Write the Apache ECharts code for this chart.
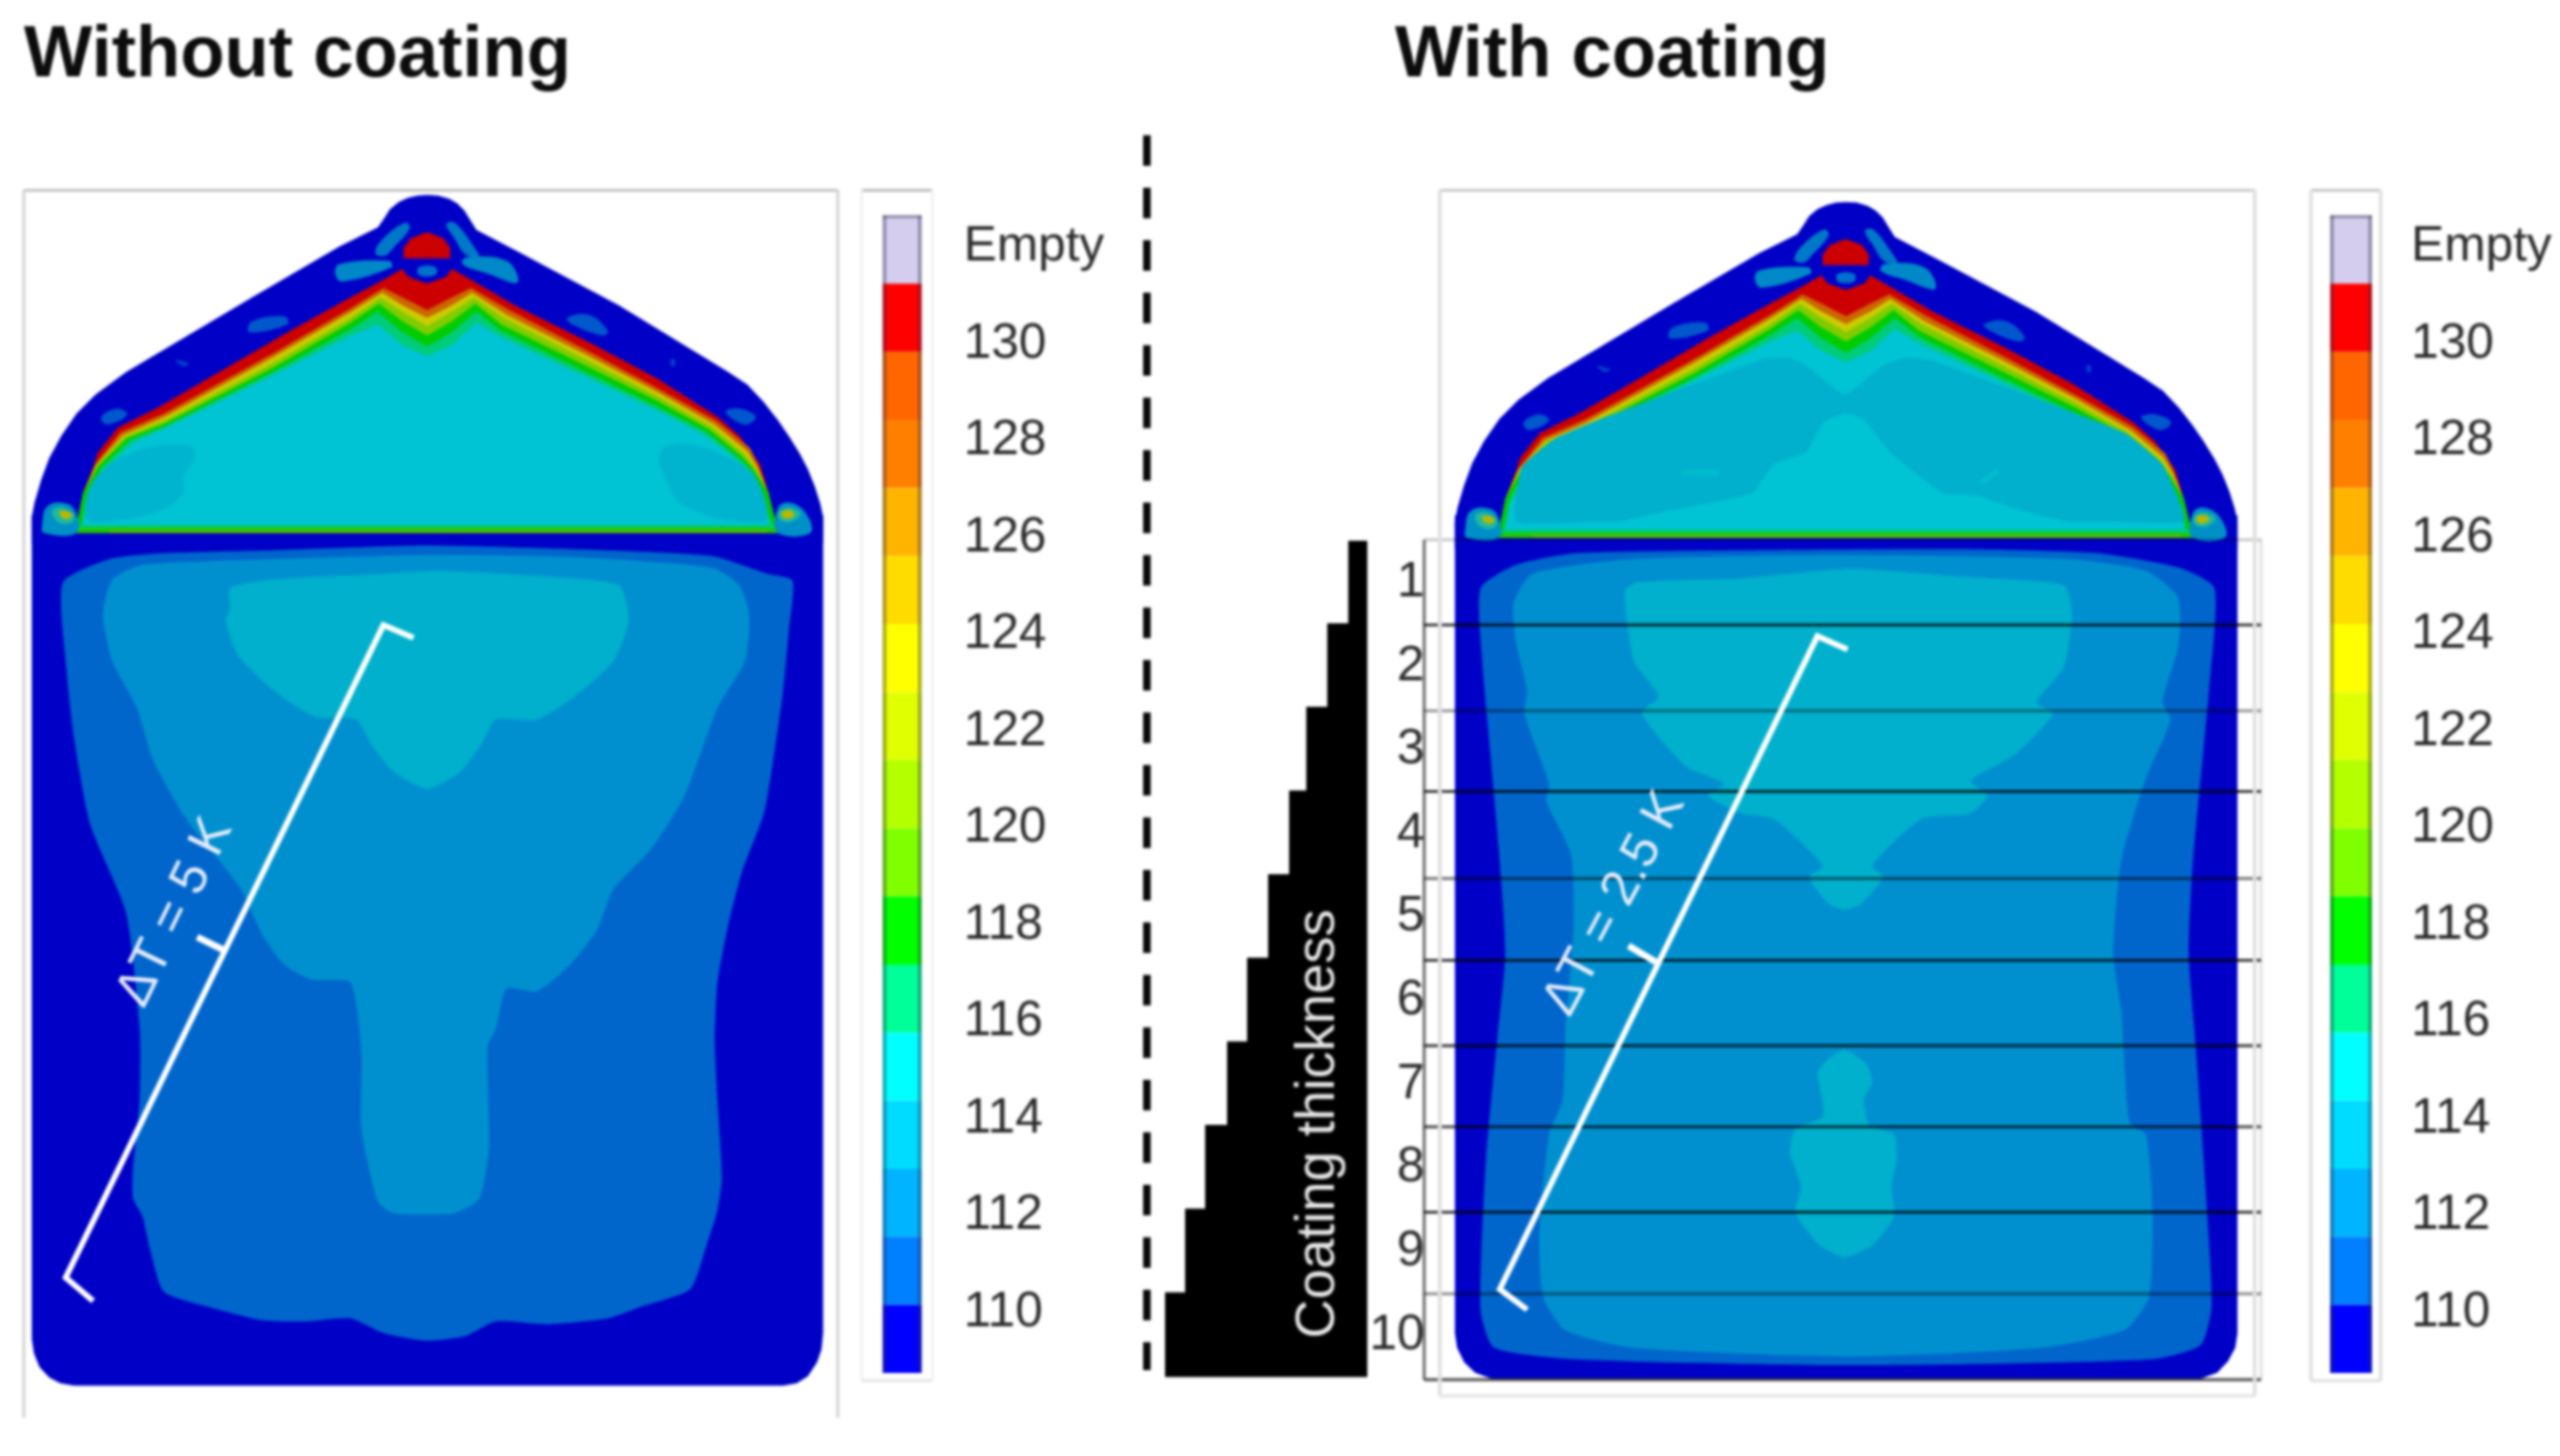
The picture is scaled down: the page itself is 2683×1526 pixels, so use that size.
<!DOCTYPE html>
<html><head><meta charset="utf-8">
<style>html,body{margin:0;background:#fff}#c{width:2683px;height:1526px;filter:blur(1.7px)}</style>
<script src="https://cdn.jsdelivr.net/npm/echarts@6/dist/echarts.min.js"></script></head>
<body><div id="c"></div>
<script>
// ---------- legend ----------
const legendCats=['Empty','131','129','127','125','123','121','119','117','115','113','111','109a','109b','109c','109d','109e'];
const legendColors=['#d5cdee','#ff0000','#ff6600','#ff8000','#ffb400','#ffdc00','#ffff00','#e0ff00','#b4ff00','#80ff00','#00ff00','#00ff99','#00ffff','#00dcff','#00b4ff','#0080ff','#0000ff'];
const legendCell=legendCats.map(()=>1);
// ---------- staircase ----------
const coatingRows=['1','2','3','4','5','6','7','8','9','10'];
const coatingThickness=[20,42,64,82,104,126,147,170,191,212];
const dividerRows=[[42,.22],[188,.78],[335,.42],[473,.78],[622,.55],[762,.78],[908,.78],[1047,.72],[1193,.78],[1333,.45],[1480,.72]];
// ---------- temperature contours, shaded colours ----------
const cBlue='#0000c6',cL1='#0066cc',cL2='#0090cf',cL3='#00b0cc',cTeal='#00c3d4';
const domeOutline=[[780,103],[800,105],[820,115],[835,130],[848,152],[858,180],[870,213],[950,285],[1130,450],[1330,660],[1365,700],[1395,755],[1420,810],[1440,860],[1460,915],[1475,965],[1488,1020],[1498,1075],[1503,1115],[1503,1200],[58,1200],[58,1115],[63,1070],[75,1000],[90,930],[112,860],[140,790],[175,730],[230,660],[460,425],[620,265],[690,205],[702,175],[712,148],[728,125],[745,112],[762,105]];
const bandRed=[[138,1165],[152,1040],[172,950],[178,915],[215,835],[290,770],[400,660],[530,530],[640,425],[700,370],[735,335],[745,360],[780,382],[815,360],[825,335],[860,370],[940,450],[1080,570],[1200,680],[1310,800],[1350,860],[1388,950],[1403,1040],[1420,1165]];
const bandOrange=[[138,1160],[152,1040],[174,950],[220,850],[300,790],[500,600],[640,460],[700,395],[735,425],[780,465],[825,425],[860,395],[930,465],[1070,590],[1200,710],[1310,815],[1370,900],[1385,955],[1403,1040],[1420,1160]];
const bandYellow=[[138,1160],[152,1040],[176,950],[225,858],[300,802],[500,612],[640,472],[698,410],[735,450],[780,490],[825,450],[862,410],[925,480],[1070,605],[1200,722],[1305,825],[1365,910],[1383,960],[1403,1040],[1420,1160]];
const bandLime=[[138,1160],[152,1040],[177,952],[228,862],[300,812],[500,630],[640,490],[695,425],[735,470],[780,515],[825,470],[865,425],[920,490],[1070,620],[1200,735],[1300,832],[1360,918],[1381,965],[1403,1040],[1420,1160]];
const bandGreen=[[138,1160],[152,1040],[180,955],[232,868],[300,822],[500,645],[640,505],[692,445],[735,500],[780,545],[825,500],[868,445],[915,510],[1070,640],[1200,750],[1295,840],[1355,925],[1378,970],[1403,1040],[1420,1160]];
const bandSea=[[146,1160],[158,1050],[185,960],[238,872],[300,830],[500,658],[640,525],[690,470],[735,535],[780,580],[825,535],[870,470],[915,530],[1070,660],[1200,768],[1290,848],[1350,930],[1376,975],[1395,1050],[1412,1160]];
const bandTeal=[[150,1145],[160,1060],[188,970],[245,880],[300,838],[500,668],[640,545],[690,510],[735,575],[780,610],[825,575],[870,505],[915,550],[1070,675],[1200,780],[1285,855],[1345,935],[1372,985],[1390,1060],[1408,1145]];
const baseGlow=[[120,1140],[1440,1140],[1440,1152],[120,1152]];
const baseLine=[[80,1150],[1478,1150],[1478,1166],[80,1166]];
const baseCore=[[200,1158],[1400,1158],[1400,1164],[200,1164]];
const cap=[[737,300],[737,270],[750,240],[780,220],[810,240],[822,270],[822,300]];
const capEdge=[[737,297],[822,297],[822,304],[737,304]];
const capDot=[[765,330],[795,330],[795,355],[765,355]];
const streakUL=[[740,190],[748,208],[718,270],[702,295],[685,285],[700,240]];
const streakUR=[[815,195],[830,190],[865,265],[875,300],[850,290],[830,240]];
const streakLL=[[620,320],[710,310],[715,330],[625,375],[612,350]];
const streakLR=[[850,300],[925,310],[945,378],[890,350],[845,322]];
const spotA=[[460,500],[520,485],[525,510],[455,535]];
const spotB=[[1035,490],[1075,480],[1110,530],[1100,545],[1045,510]];
const spotC=[[185,800],[215,775],[232,795],[195,825]];
const spotD=[[1325,785],[1350,775],[1380,800],[1360,825]];
const spotE=[[320,622],[345,632],[335,642]];
const spotF=[[1225,620],[1232,622],[1232,640],[1225,640]];
const blobL=[[85,1085],[110,1070],[135,1090],[140,1165],[80,1165],[78,1130]];
const blobLMid=[[95,1095],[115,1085],[135,1110],[130,1135],[105,1130]];
const blobLCore=[[108,1100],[125,1098],[132,1112],[118,1122]];
const blobR=[[1420,1090],[1440,1070],[1470,1100],[1480,1165],[1420,1165]];
const blobRMid=[[1422,1100],[1440,1085],[1462,1105],[1445,1130],[1425,1125]];
const blobRCore=[[1427,1100],[1445,1095],[1450,1112],[1432,1120]];
const patchLeft=[[295,890],[350,895],[355,930],[335,990],[335,1040],[300,1090],[240,1120],[165,1130],[155,1080],[175,990],[230,920]];
const patchRight=[[1210,900],[1250,885],[1320,920],[1375,980],[1400,1080],[1395,1130],[1310,1120],[1240,1070],[1220,1010],[1205,950]];
// right dome interior (crop units of the right panel)
const rightDark=[[190,1130],[200,960],[260,870],[340,810],[640,620],[690,615],[720,640],[790,730],[860,640],[900,615],[950,625],[1300,850],[1370,950],[1400,1060],[1410,1130],[1250,1130],[340,1130]];
const rightPyramid=[[790,790],[825,810],[875,915],[970,1040],[1030,1048],[1120,1100],[1230,1145],[350,1145],[470,1095],[620,1040],[660,950],[720,910],[750,820]];
const rightFleckA=[[490,970],[555,968],[560,988],[495,985]];
const rightFleckB=[[1035,1005],[1065,965],[1072,975],[1045,1012]];
// left body
const leftBody=[[58,0],[58,1410],[62,1435],[72,1458],[90,1476],[110,1486],[135,1490],[1430,1490],[1455,1486],[1475,1474],[1492,1450],[1500,1428],[1503,1400],[1503,0]];
const leftL1=[[115,115],[200,75],[300,65],[500,60],[780,52],[1100,60],[1300,70],[1400,100],[1447,112],[1440,200],[1430,300],[1415,400],[1395,510],[1355,610],[1330,700],[1310,800],[1305,900],[1310,1000],[1318,1135],[1310,1190],[1290,1250],[1260,1325],[1170,1355],[1110,1375],[1000,1385],[905,1380],[850,1405],[780,1413],[700,1400],[640,1375],[560,1380],[480,1378],[400,1360],[300,1330],[275,1260],[260,1200],[243,1170],[243,1120],[255,1000],[255,880],[230,680],[165,530],[135,380],[120,250]];
const leftL2=[[188,170],[205,110],[260,85],[500,75],[780,68],[1050,72],[1300,90],[1350,120],[1368,170],[1360,250],[1310,330],[1250,480],[1190,570],[1120,640],[1090,710],[1040,770],[980,815],[925,810],[905,880],[890,910],[893,1080],[875,1170],[830,1195],[720,1195],[690,1175],[660,1050],[660,920],[640,800],[570,795],[520,770],[480,720],[440,640],[340,520],[280,420],[250,330],[205,250]];
const leftL3=[[420,125],[500,110],[700,100],[800,95],[1000,105],[1130,120],[1148,180],[1120,250],[1050,310],[980,350],[905,350],[880,390],[840,440],[780,468],[720,440],[680,395],[650,350],[575,345],[500,300],[435,240],[412,180],[420,160]];
// right body
const rightBody=[[78,0],[78,1400],[82,1425],[95,1450],[115,1468],[145,1478],[1440,1478],[1470,1468],[1490,1448],[1503,1425],[1507,1400],[1507,0]];
const rightL1=[[125,125],[190,85],[300,65],[600,60],[1000,58],[1250,65],[1400,90],[1465,125],[1455,300],[1445,400],[1425,600],[1418,750],[1430,900],[1445,1100],[1460,1350],[1440,1420],[1350,1445],[800,1455],[300,1445],[150,1425],[125,1360],[135,1100],[155,900],[170,750],[158,570],[140,380],[128,250]];
const rightL2=[[185,150],[220,100],[400,75],[790,68],[1200,75],[1340,95],[1398,140],[1400,220],[1370,320],[1385,350],[1340,450],[1295,590],[1280,750],[1295,850],[1310,1040],[1340,1060],[1352,1200],[1345,1340],[1300,1395],[1150,1425],[800,1440],[400,1425],[280,1395],[240,1340],[232,1240],[250,1060],[275,1000],[280,880],[295,700],[290,580],[245,490],[250,460],[205,340],[210,300],[190,220]];
const rightL3a=[[388,130],[410,115],[600,108],[800,92],[1000,105],[1190,120],[1205,170],[1190,260],[1140,320],[1170,340],[1100,410],[1020,455],[1050,480],[1020,510],[930,520],[840,600],[860,620],[820,665],[790,675],[760,665],[725,620],[750,600],[660,520],[600,510],[540,480],[570,460],[500,430],[420,340],[450,310],[405,250]];
const rightL3b=[[790,915],[830,940],[840,970],[825,1000],[835,1045],[880,1060],[885,1100],[875,1150],[880,1200],[840,1250],[790,1270],[745,1250],[700,1195],[710,1150],[690,1090],[700,1050],[750,1030],[745,980],[740,955],[760,930]];
// white measuring brackets
const leftGauge=[[755,210],[700,188],[120,1305],[170,1345]], leftTick=[[410,745],[360,722]];
const rightGauge=[[795,230],[740,207],[160,1325],[210,1360]], rightTick=[[445,765],[395,737]];

const domeBase=[
 [domeOutline,cBlue],[bandRed,'#cc0000'],[bandOrange,'#cc6600'],[bandYellow,'#cccc00'],[bandLime,'#80cc00'],[bandGreen,'#00cc00'],[bandSea,'#00cc7a'],[bandTeal,cTeal],
 [baseGlow,'#00cc7a'],[baseLine,'#22c800'],[baseCore,'#70bb00'],
 [cap,'#cc0000'],[capEdge,'#a80030']];
const domeSpots=[[capDot,'#0070cc'],
 [streakUL,'#0078c8'],[streakUR,'#0078c8'],[streakLL,'#0088c8'],[streakLR,'#0088c8'],
 [spotA,'#0058cc'],[spotB,'#0058cc'],[spotC,'#0058cc'],[spotD,'#0058cc'],[spotE,'#0040cc'],[spotF,'#0040cc'],
 [blobL,'#0090c8'],[blobLMid,'#20b8a0'],[blobLCore,'#b8b800'],[blobR,'#0090c8'],[blobRMid,'#20b8a0'],[blobRCore,'#b8b800']];

// ---------- builders ----------
const W=1568;
function gridOf(l,t,w,h,xMax,yMax,xInv){return {grid:{left:l,top:t,width:w,height:h,show:false},
 x:{type:'value',gridIndex:0,min:0,max:xMax,show:false,inverse:!!xInv},
 y:{type:'value',gridIndex:0,min:0,max:yMax,show:false,inverse:true}};}
const panels=[gridOf(0,170,900,450,W,1350),gridOf(0,540,900,960,W,W),gridOf(1491.8,177.6,890.2,447,W,1350),gridOf(1480,170,900,450,W,1350),gridOf(1480,540,900,960,W,W)];
const grids=panels.map(p=>p.grid), xAxes=[],yAxes=[];
panels.forEach((p,i)=>{xAxes.push({...p.x,gridIndex:i});yAxes.push({...p.y,gridIndex:i});});
function poly(name,g,layers,z,smooth){return {type:'custom',name,coordinateSystem:'cartesian2d',xAxisIndex:g,yAxisIndex:g,z,clip:false,silent:true,animation:false,
 data:layers.map((l,i)=>[i,0]),
 renderItem:(p,api)=>{const L=layers[p.dataIndex];return {type:'polygon',shape:{points:L[0].map(q=>api.coord(q)),smooth:smooth||0},style:{fill:L[1]}};}};}
function lines(name,g,items,z){return {type:'custom',name,coordinateSystem:'cartesian2d',xAxisIndex:g,yAxisIndex:g,z,clip:false,silent:true,animation:false,
 data:items.map((l,i)=>[i,0]),
 renderItem:(p,api)=>{const L=items[p.dataIndex];return {type:'polyline',shape:{points:L[0].map(q=>api.coord(q))},style:{stroke:L[1],lineWidth:L[2],fill:null,lineJoin:'miter'}};}};}
function label(name,g,pt,text,rot,z){return {type:'custom',name,coordinateSystem:'cartesian2d',xAxisIndex:g,yAxisIndex:g,z,clip:false,silent:true,animation:false,
 data:[[0,0]],renderItem:(p,api)=>{const c=api.coord(pt);return {type:'text',x:c[0],y:c[1],rotation:rot,style:{text,fill:'#e6ecfa',font:'54px "Liberation Sans"',align:'center',verticalAlign:'middle'}};}};}

// staircase grid (5), legend grids (6..9)
grids.push({left:1221,top:566.7,width:212,height:876.5,show:false});
xAxes.push({type:'value',gridIndex:5,min:0,max:212,inverse:true,show:false});
yAxes.push({type:'category',gridIndex:5,data:coatingRows,inverse:true,position:'right',axisLine:{show:false},axisTick:{show:false},
 axisLabel:{margin:60,align:'right',fontSize:52,fontFamily:'Liberation Sans',color:'#2a2a2a',padding:[14,0,0,0]}});
function legendAxes(barLeft,barW,labelLeft){
 const b=grids.length;
 grids.push({left:barLeft,top:226,width:barW,height:1213,show:false});
 xAxes.push({type:'value',gridIndex:b,min:0,max:1,show:false});
 yAxes.push({type:'category',gridIndex:b,data:legendCats,inverse:true,show:false});
 grids.push({left:labelLeft,top:259,width:3,height:1218,show:false});
 xAxes.push({type:'value',gridIndex:b+1,min:0,max:1,show:false});
 yAxes.push({type:'value',gridIndex:b+1,min:108,max:132,interval:2,position:'right',axisLine:{show:false},axisTick:{show:false},splitLine:{show:false},
  axisLabel:{margin:7,align:'left',fontSize:52,fontFamily:'Liberation Sans',color:'#2a2a2a',showMinLabel:false,
   formatter:v=>v===132?'Empty':(v===108?'':String(v))}});
 return b;
}
const legA=legendAxes(925,41,1000), legB=legendAxes(2442,44,2517);
function legendBar(b){return {type:'bar',xAxisIndex:b,yAxisIndex:b,barWidth:'100%',silent:true,animation:false,z:5,
 data:legendCell.map((v,i)=>({value:v,itemStyle:{color:legendColors[i]}}))};}

const series=[
 poly('left body',1,[[leftBody,cBlue]],1,0),
 poly('left contours',1,[[leftL1,cL1],[leftL2,cL2],[leftL3,cL3]],2,.2),
 poly('left dome',0,domeBase,3),
 poly('left spots',0,domeSpots,3,.4),
 poly('left patches',0,[[patchLeft,'#00b4cf'],[patchRight,'#00b4cf']],4,.3),
 poly('right body',4,[[rightBody,cBlue]],1,0),
 poly('right contours',4,[[rightL1,cL1],[rightL2,cL2],[rightL3a,cL3],[rightL3b,cL3]],2,.2),
 poly('right dome',2,domeBase,3),
 poly('right spots',2,domeSpots,3,.4),
 poly('right interior',3,[[rightDark,cL3],[rightPyramid,cTeal],[rightFleckA,'#00bcd0'],[rightFleckB,'#00bcd0']],4,.15),
 lines('left gauge',1,[[leftGauge,'#fff',6],[leftTick,'#fff',7]],6),
 lines('right gauge',4,[[rightGauge,'#fff',6],[rightTick,'#fff',7]],6),
 label('left dT',1,[320,680],'ΔT = 5 K',1.117,6),
 label('right dT',4,[370,665],'ΔT = 2.5 K',1.08,6),
 lines('dividers',4,dividerRows.map(d=>[[[22,d[0]],[1550,d[0]]],'rgba(0,0,0,'+d[1]+')',3]),5),
 lines('divider sides',4,[[[[22,42],[22,1480]],'rgba(0,0,0,.6)',3],[[[1550,42],[1550,1480]],'rgba(0,0,0,.12)',3]],5),
 {type:'bar',name:'Coating thickness',xAxisIndex:5,yAxisIndex:5,data:coatingThickness,barWidth:90,silent:true,animation:false,itemStyle:{color:'#000'},z:3},
 legendBar(legA),legendBar(legB)
];

// ---------- page furniture ----------
function seg(x1,y1,x2,y2,stroke,w,extra){return {type:'line',shape:{x1,y1,x2,y2},style:Object.assign({stroke,lineWidth:w},extra||{}),z:50};}
const graphic=[
 seg(25,199.5,878,199.5,'#c2c2c2',3),seg(25,199,25,1486,'#d2d2d2',3),seg(878,199,878,1486,'#d2d2d2',3),
 seg(1509,199.5,2363,199.5,'#c8c8c8',3),seg(1509,199,1509,1463,'#e0e0e0',4),seg(2363,199,2363,1463,'#e0e0e0',4),seg(1509,1463,2363,1463,'#e2e2e2',3),
 seg(903,199.5,977,199.5,'#bbb',3),seg(903,199,903,1447,'#f2f2f2',3),seg(977,199,977,1447,'#f2f2f2',3),seg(903,1447,977,1447,'#e4e4e4',3),
 seg(2422,199.5,2495,199.5,'#c4c4c4',3),seg(2422,199,2422,1447,'#e2e2e2',4),seg(2495,199,2495,1447,'#e2e2e2',4),seg(2422,1447,2495,1447,'#dedede',3),
 seg(927,226,927,1439,'rgba(40,40,70,.38)',4),seg(964,226,964,1439,'rgba(40,40,70,.38)',4),seg(925,227,966,227,'rgba(40,40,70,.45)',3),
 seg(2444,226,2444,1439,'rgba(40,40,70,.38)',4),seg(2484,226,2484,1439,'rgba(40,40,70,.38)',4),seg(2442,227,2486,227,'rgba(40,40,70,.45)',3),
 seg(1202,141.7,1202,1436,'#0a0a0a',8,{lineDash:[32,23]}),
 {type:'text',x:1382,y:1178,rotation:Math.PI/2,z:60,style:{text:'Coating thickness',fill:'#e8e8e8',font:'57px "Liberation Sans"',align:'center',verticalAlign:'middle'}}
];
const title=[
 {text:'Without coating',left:20,top:16,textStyle:{fontFamily:'Liberation Sans',fontWeight:'bold',fontSize:76,color:'#0c0c0c'}},
 {text:'With coating',left:1457,top:16,textStyle:{fontFamily:'Liberation Sans',fontWeight:'bold',fontSize:76,color:'#0c0c0c'}}
];
echarts.init(document.getElementById('c'),null,{renderer:'canvas'}).setOption({animation:false,backgroundColor:'#fff',title,grid:grids,xAxis:xAxes,yAxis:yAxes,series,graphic});
</script></body></html>
